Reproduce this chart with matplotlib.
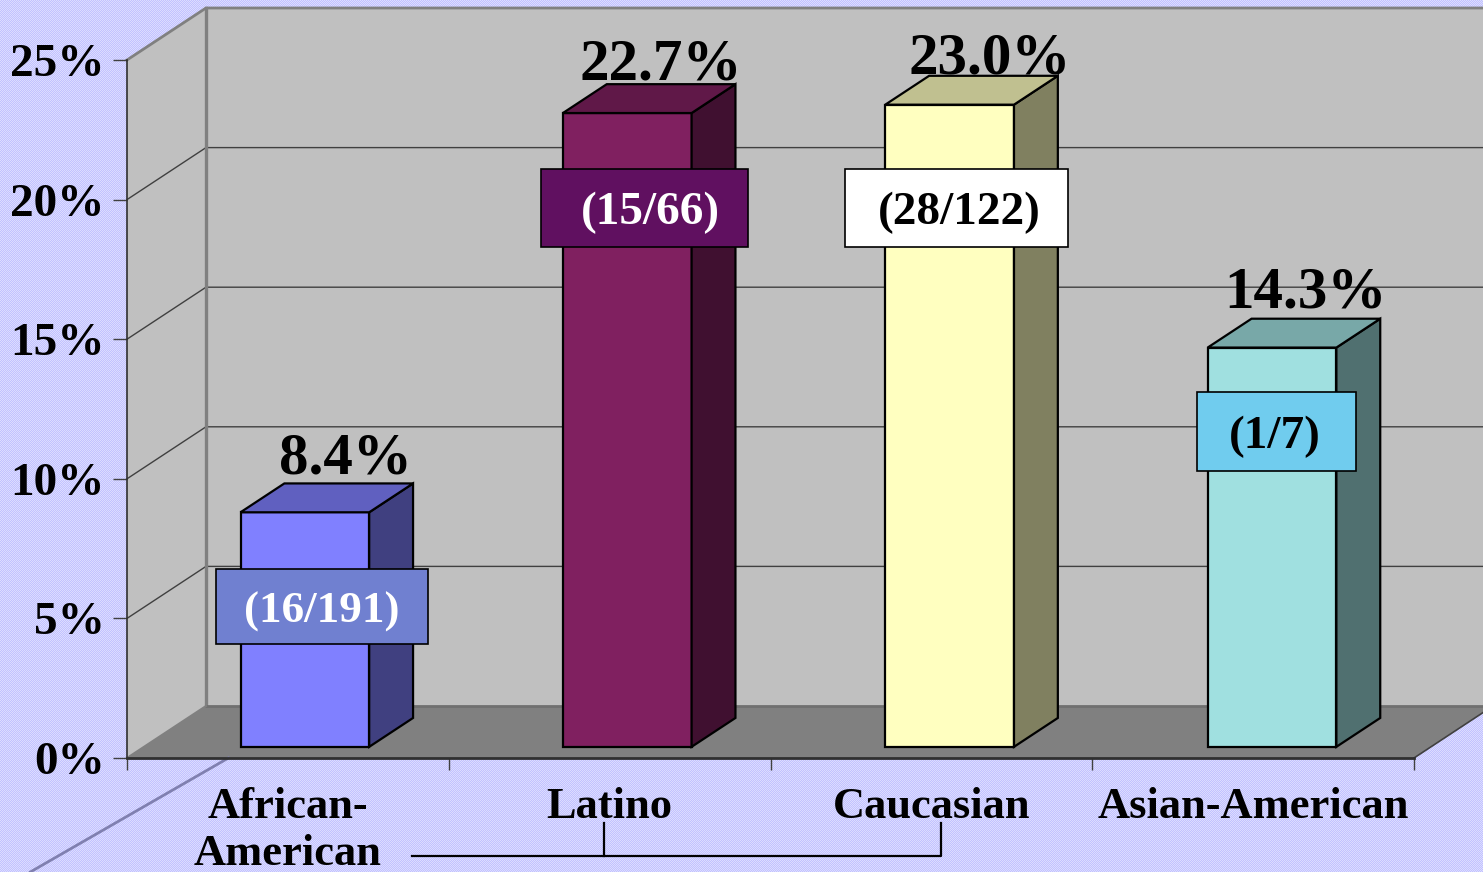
import numpy as np
import matplotlib
matplotlib.use("Agg")
import matplotlib.pyplot as plt
from matplotlib.patches import Polygon, Rectangle

plt.rcParams['font.family'] = ['Liberation Serif', 'DejaVu Serif']
plt.rcParams['font.weight'] = 'bold'

categories = ["African-\nAmerican", "Latino", "Caucasian", "Asian-American"]
values = [8.4, 22.7, 23.0, 14.3]
counts = ["(16/191)", "(15/66)", "(28/122)", "(1/7)"]
front_cols = ["#8080FF", "#802060", "#FFFFC0", "#A0E0E0"]
side_cols = ["#404080", "#401030", "#808060", "#507070"]
top_cols = ["#6060C0", "#601848", "#C0C090", "#78A8A8"]
box_cols = ["#7080D0", "#601060", "#FFFFFF", "#70CCEE"]
count_cols = ["white", "white", "black", "black"]
yticks = [0, 5, 10, 15, 20, 25]

W, H = 1483, 872
fig = plt.figure(figsize=(W / 100, H / 100), dpi=100)

# dithered lavender background
yy, xx = np.mgrid[0:H, 0:W]
chk = ((xx + yy) % 2)[..., None]
bg = (np.array([194, 194, 255]) * chk + np.array([220, 220, 255]) * (1 - chk)) / 255
fig.figimage(bg, 0, 0, zorder=-1)

ax = fig.add_axes([127 / W, (H - 758) / H, 1287 / W, 698 / H])
ax.set_xlim(0, 4)
ax.set_ylim(0, 25)
ax.patch.set_alpha(0)

# depth of the 3d box, in data units
DX = 79 / 321.75
DY = 52 / 27.92
BAR_W = 0.4
D0, D1 = 0.215, 0.77


def pr(x, y, d):
    return (x + d * DX, y + d * DY)


def poly(pts, fc, ec="none", lw=0, z=1):
    ax.add_patch(Polygon(pts, closed=True, fc=fc, ec=ec, lw=lw, zorder=z, clip_on=False))


xr = 4.3
# walls and floor
poly([pr(0, 0, 0), pr(0, 0, 1), pr(0, 25, 1), pr(0, 25, 0)], "#C0C0C0")
poly([pr(0, 0, 1), pr(xr, 0, 1), pr(xr, 25, 1), pr(0, 25, 1)], "#C0C0C0")
poly([pr(0, 0, 0), pr(4, 0, 0), pr(4, 0, 1), pr(0, 0, 1)], "#808080", z=1.2)

for t in yticks[1:-1]:
    p0, p1, p2 = pr(0, t, 0), pr(0, t, 1), pr(xr, t, 1)
    ax.plot([p0[0], p1[0], p2[0]], [p0[1], p1[1], p2[1]], color="#404040", lw=1, zorder=1.3, clip_on=False)

# wall edges
p = [pr(0, 0, 1), pr(0, 25, 1)]
ax.plot(*zip(*p), color="#808080", lw=2.4, zorder=1.3, clip_on=False)
p = [pr(0, 25, 0), pr(0, 25, 1), pr(xr, 25, 1)]
ax.plot(*zip(*p), color="#808080", lw=2, zorder=1.3, clip_on=False)
p = [pr(0, 0, 1), pr(4, 0, 1)]
ax.plot(*zip(*p), color="#707070", lw=2, zorder=1.3, clip_on=False)
p = [pr(0, 0, 0), pr(0, 0, 1)]
ax.plot(*zip(*p), color="#808080", lw=1.5, zorder=1.3, clip_on=False)
p = [pr(4, 0, 0), pr(4, 0, 1)]
ax.plot(*zip(*p), color="#404040", lw=1.2, zorder=1.3, clip_on=False)
# line running off below the floor
p = [pr(0.315, 0, 0), pr(-0.3, -4.08, 0)]
ax.plot(*zip(*p), color="#8080B0", lw=2, zorder=1.3, clip_on=False)

# bars
for i, v in enumerate(values):
    x0 = i * 1.002 + 0.5 - BAR_W / 2
    x1 = x0 + BAR_W
    poly([pr(x0, 0, D0), pr(x1, 0, D0), pr(x1, v, D0), pr(x0, v, D0)], front_cols[i], "black", 1.6, 3)
    poly([pr(x1, 0, D0), pr(x1, 0, D1), pr(x1, v, D1), pr(x1, v, D0)], side_cols[i], "black", 1.6, 3)
    poly([pr(x0, v, D0), pr(x1, v, D0), pr(x1, v, D1), pr(x0, v, D1)], top_cols[i], "black", 1.6, 3)

ax.set_xticks([0, 1, 2, 3, 4])
ax.set_xticklabels([])
ax.set_xticks([0.5, 1.5, 2.5, 3.5], minor=True)
ax.set_xticklabels(categories, minor=True, fontsize=32, linespacing=1.22)
ax.tick_params(axis='x', which='minor', length=0, pad=21)
ax.tick_params(axis='x', which='major', length=8.5, width=1, color="#404040")
ax.set_yticks(yticks)
ax.set_yticklabels([f"{t}%" for t in yticks], fontsize=34)
ax.tick_params(axis='y', length=10, width=1, color="#404040", pad=6)
for s in ['top', 'right']:
    ax.spines[s].set_visible(False)
ax.spines['left'].set_color("#303030")
ax.spines['left'].set_linewidth(1.2)
ax.spines['bottom'].set_color("#303030")
ax.spines['bottom'].set_linewidth(2)
for s in ax.spines.values():
    s.set_zorder(2)

# annotations in image pixels
ov = fig.add_axes([0, 0, 1, 1])
ov.set_xlim(0, W)
ov.set_ylim(H, 0)
ov.axis("off")
ov.patch.set_alpha(0)

val_xy = [(345, 473), (661, 79), (990, 73), (1305, 307)]
for (tx, ty), v in zip(val_xy, values):
    ov.text(tx, ty, f"{v}%", ha="center", va="baseline", fontsize=42.5, color="black")

boxes = [(216, 569, 212, 75), (541, 169, 207, 78), (845, 169, 223, 78), (1197, 392, 159, 79)]
count_x = [322, 650, 959, 1275]
count_size = [32.5, 34, 34, 34]
for (bx, by, bw, bh), tx, fs, lab, fc, tc in zip(boxes, count_x, count_size, counts, box_cols, count_cols):
    ov.add_patch(Rectangle((bx, by), bw, bh, fc=fc, ec="black", lw=1.2))
    ov.text(tx, by + bh / 2 + 5, lab, ha="center", va="center", fontsize=fs, color=tc)

# bracket under the labels
ov.plot([412, 941, 941], [856, 856, 823], color="black", lw=1.6)
ov.plot([604, 604], [856, 823], color="black", lw=1.6)

fig.savefig("out.png", dpi=100)
